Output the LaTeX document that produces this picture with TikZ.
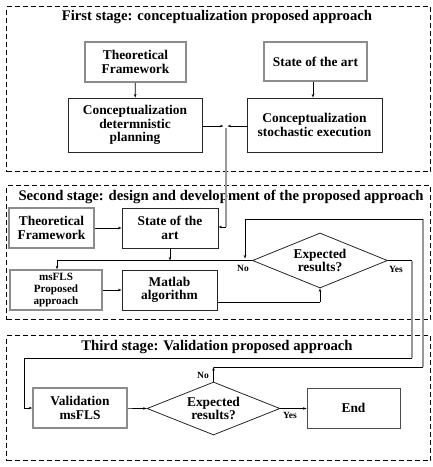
\documentclass[tikz,border=0pt]{standalone}
\usepackage{fontspec}
\setmainfont{Liberation Serif}
\usetikzlibrary{shapes.geometric,arrows.meta}
\begin{document}
\begin{tikzpicture}[x=1pt,y=-1pt,
  font=\bfseries\fontsize{13.4}{13.6}\selectfont,
  stagebox/.style={draw, dashed, dash pattern=on 5pt off 3pt, line width=1.2pt},
  title/.style={font=\bfseries\fontsize{14.7}{15}\selectfont},
  blk/.style={draw=black!85, line width=0.9pt, align=center, inner sep=1pt},
  gry/.style={draw=black!45, line width=1.6pt, align=center, inner sep=1pt},
  dec/.style={draw=black!85, line width=0.8pt, diamond, aspect=2.45, align=center, inner sep=0pt},
  arr/.style={-{Stealth[length=3.5pt,width=2.5pt]}, line width=0.7pt},
  ln/.style={line width=0.9pt},
  gln/.style={line width=1.4pt, draw=black!40},
  lbl/.style={font=\bfseries\fontsize{9.5}{10}\selectfont, inner sep=0pt}
]
\useasboundingbox (0,0) rectangle (433,467);
% stage boxes
\node[stagebox, minimum width=424pt, minimum height=165pt, anchor=north west] (s1) at (6,6) {};
\node[stagebox, minimum width=424pt, minimum height=134pt, anchor=north west] (s2) at (6,185) {};
\node[stagebox, minimum width=424pt, minimum height=125pt, anchor=north west] (s3) at (6,335) {};
\node[title] (t1) at (217,17) {First stage: conceptualization proposed approach};
\node[title] (t2) at (221,197) {Second stage: design and development of the proposed approach};
\node[title] (t3) at (217,347) {Third stage: Validation proposed approach};
% stage 1
\node[gry, minimum width=101pt, minimum height=40pt] (tf1) at (135.5,62) {Theoretical\\Framework};
\node[gry, minimum width=103pt, minimum height=39pt] (sa1) at (315.5,61.5) {State of the art};
\node[blk, minimum width=134pt, minimum height=54pt] (cd) at (135,125) {Conceptualization\\determnistic\\planning};
\node[blk, minimum width=135pt, minimum height=54pt] (cs) at (314.5,125) {Conceptualization\\stochastic execution};
\coordinate (m1) at (226,126);
\draw[arr] (tf1) -- (cd);
\draw[arr] (sa1.south -| 313,0) -- (cs.north -| 313,0);
\draw[arr] (cd.east |- m1) -- ++(21,0);
\draw[arr] (cs.west |- m1) -- ++(-19,0);
% stage 2
\node[gry, minimum width=85pt, minimum height=40pt] (tf2) at (51.5,228) {Theoretical\\Framework};
\node[blk, minimum width=96pt, minimum height=40pt] (sa2) at (170,228) {State of the\\art};
\node[gry, minimum width=92pt, minimum height=40pt, font=\bfseries\fontsize{11.1}{12}\selectfont] (ms) at (56,290) {msFLS\\Proposed\\approach};
\node[blk, minimum width=95pt, minimum height=40pt] (ml) at (169.5,290) {Matlab\\algorithm};
\node[dec, minimum width=135pt, minimum height=55pt] (d2) at (320,260.5) {Expected\\results?};
\draw[gln] (226,128) -- (226,227);
\draw[arr] (226,227) -- (sa2.east |- 0,227);
\draw[arr] (tf2) -- (sa2);
\draw[ln] (d2.west) -- (57,260.5);
\draw[arr] (57,260.5) -- (ms.north -| 57,0);
\draw[arr] (sa2.south) -- (170,260.5);
\draw[arr] (ms) -- (ml);
\draw[ln] (ml.east |- 0,302) -- (320,302);
\draw[arr] (320,302) -- (d2.south);
\node[lbl] (no2) at (243,268) {No};
\node[lbl] (yes2) at (396,269) {Yes};
% yes path of stage 2 to stage 3
\coordinate (y1) at (412,260.5);
\coordinate (y2) at (412,358);
\coordinate (y3) at (24,358);
\coordinate (y4) at (24,408);
\draw[ln] (d2.east) -- (y1);
\draw[gln] (y1) -- (y2);
\draw[ln] (y2) -- (y3) -- (y4);
% stage 3
\node[gry, minimum width=94pt, minimum height=40pt] (val) at (80,408) {Validation\\msFLS};
\node[dec, minimum width=133pt, minimum height=53pt] (d3) at (213.5,408.5) {Expected\\results?};
\node[blk, draw=black!70, minimum width=93pt, minimum height=40pt] (end) at (353.5,408) {End};
\draw[arr] (y4) -- (val.west |- y4);
\draw[arr] (val) -- (d3.west);
\draw[arr] (d3.east) -- (end.west |- d3.east);
\node[lbl] (yes3) at (290,415) {Yes};
\node[lbl] (no3) at (203,375) {No};
% no path of stage 3 back to stage 2
\coordinate (n1) at (213.5,367);
\coordinate (n2) at (423,367);
\coordinate (n3) at (423,219);
\coordinate (n4) at (245,219);
\draw[arr] (d3.north) -- (n1);
\draw[ln] (n1) -- (n2);
\draw[gln] (n2) -- (n3);
\draw[ln] (n3) -- (n4);
\draw[arr] (n4) -- (245,258.5);
\end{tikzpicture}
\end{document}
